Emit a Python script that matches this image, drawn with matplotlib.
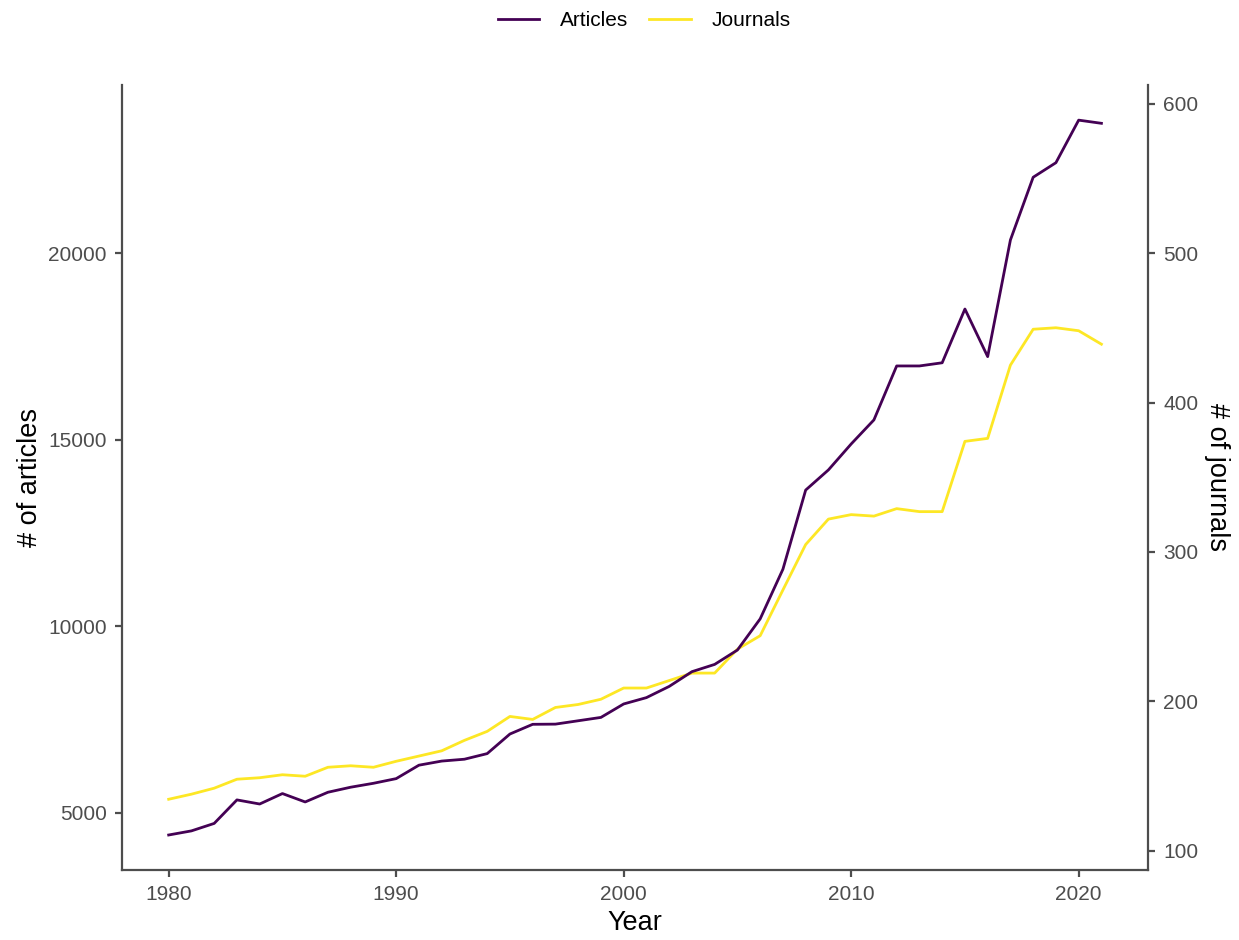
import matplotlib.pyplot as plt
from matplotlib.lines import Line2D

plt.rcParams['font.family'] = ['Liberation Sans', 'DejaVu Sans']

years = list(range(1980, 2022))
articles = [4410, 4520, 4720, 5350, 5240, 5520, 5295, 5555, 5690, 5795,
            5920, 6280, 6390, 6440, 6590, 7115, 7375, 7380, 7470, 7560,
            7920, 8090, 8390, 8785, 8980, 9365, 10200, 11530, 13650, 14190,
            14885, 15530, 16975, 16975, 17060, 18500, 17225, 20350, 22030, 22420,
            23560, 23475]
journals = [134.6, 138, 142, 148, 149, 151, 150, 156, 157, 156,
            160, 163.5, 167, 174, 180, 190, 188, 196, 198, 201.5,
            209, 209, 214, 219, 219, 235, 244, 274.6, 305, 322,
            325, 324, 329, 327, 327, 374, 376, 425, 449, 450,
            448, 439]

c_art = '#440154'
c_jou = '#FDE725'
axis_col = '#4D4D4D'

fig = plt.figure(figsize=(12.39, 9.4), dpi=100)
ax = fig.add_axes([0.0985, 0.0745, 0.8281, 0.8351])
ax2 = ax.twinx()

ax.plot(years, articles, color=c_art, lw=2)
ax2.plot(years, journals, color=c_jou, lw=2)
ax.set_zorder(ax2.get_zorder() + 1)
ax.patch.set_visible(False)

ax.set_xlim(1977.95, 2023.05)
ax.set_ylim(3473, 24502)
ax2.set_ylim(87.3, 612.4)
ax.set_xticks([1980, 1990, 2000, 2010, 2020])
ax.set_yticks([5000, 10000, 15000, 20000])
ax2.set_yticks([100, 200, 300, 400, 500, 600])

for a in (ax, ax2):
    a.spines['top'].set_visible(False)
    for s in ('left', 'right', 'bottom'):
        a.spines[s].set_color(axis_col)
        a.spines[s].set_linewidth(1.6)
    a.tick_params(colors=axis_col, labelcolor=axis_col, labelsize=15,
                  width=1.6, length=5, pad=6)
ax.spines['right'].set_visible(False)
ax2.spines['left'].set_visible(False)
ax2.spines['bottom'].set_visible(False)

ax.set_xlabel('Year', fontsize=19.5, color='black', labelpad=4)
ax.set_ylabel('# of articles', fontsize=19.5, color='black', labelpad=4)
ax2.set_ylabel('# of journals', fontsize=19.5, color='black', rotation=270,
               va='bottom', labelpad=4)

handles = [Line2D([], [], color=c_art, lw=2), Line2D([], [], color=c_jou, lw=2)]
fig.legend(handles, ['Articles', 'Journals'], loc='center', bbox_to_anchor=(0.52, 0.978),
           ncol=2, frameon=False, fontsize=15, handlelength=2.0, handletextpad=1.0,
           columnspacing=1.0)

plt.savefig('out.png', dpi=100)
